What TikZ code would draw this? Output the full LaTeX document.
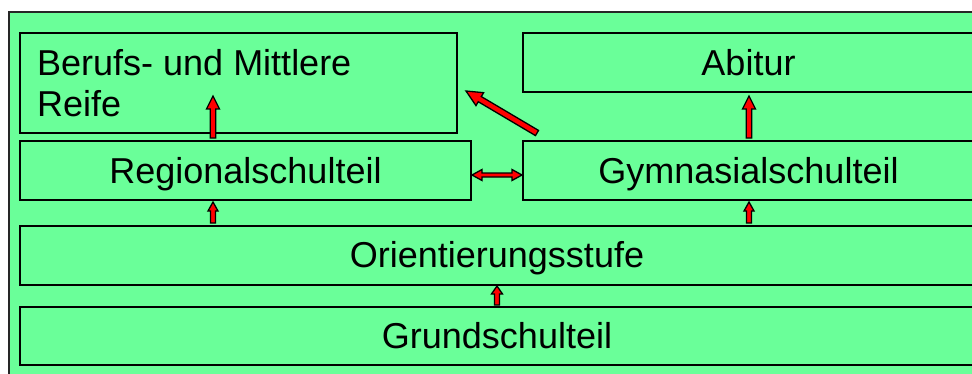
\documentclass[tikz,border=0pt]{standalone}
\usepackage{fontspec}
\setmainfont{Liberation Sans}
\usetikzlibrary{calc}
\definecolor{bggreen}{RGB}{106,255,153}
\tikzset{
  x=1pt, y=1pt,
  box/.style={draw=black, line width=2pt, fill=bggreen, rectangle, anchor=north west,
    inner sep=0pt, outer sep=0pt, font=\fontsize{36}{40}\selectfont,
    text height=25pt, text depth=0pt},
  arr/.style={fill=red, draw=black, line width=1.3pt, line join=miter},
  frame/.style={draw=black!85, line width=2pt, fill=bggreen},
}
% #1 tail, #2 tip, #3 shaft half width, #4 head half width, #5 head length
\newcommand{\blockarrow}[5]{%
  \coordinate (tmpH) at ($(#2)!#5!(#1)$);
  \path[arr] ($(#1)!#3!90:(#2)$) -- ($(tmpH)!#3!90:(#2)$) -- ($(tmpH)!#4!90:(#2)$) -- (#2)
    -- ($(tmpH)!#4!-90:(#2)$) -- ($(tmpH)!#3!-90:(#2)$) -- ($(#1)!#3!-90:(#2)$) -- cycle;
}
% double-headed: #1 and #2 ends
\newcommand{\blockarrowdouble}[5]{%
  \coordinate (tmpHa) at ($(#2)!#5!(#1)$);
  \coordinate (tmpHb) at ($(#1)!#5!(#2)$);
  \path[arr] (#1) -- ($(tmpHb)!#4!-90:(#2)$) -- ($(tmpHb)!#3!-90:(#2)$) -- ($(tmpHa)!#3!90:(#1)$)
    -- ($(tmpHa)!#4!90:(#1)$) -- (#2) -- ($(tmpHa)!#4!-90:(#1)$) -- ($(tmpHa)!#3!-90:(#1)$)
    -- ($(tmpHb)!#3!90:(#2)$) -- ($(tmpHb)!#4!90:(#2)$) -- cycle;
}
\begin{document}
\begin{tikzpicture}
\useasboundingbox (0,0) rectangle (972,373);
\clip (0,0) rectangle (972,373);
\fill[white] (0,0) rectangle (972,373);
\path[frame] (9,361) rectangle (995,-20);

\node[box, minimum width=436.5pt, minimum height=100pt] (beruf) at (20,340) {};
\node[anchor=base west, inner sep=0pt, font=\fontsize{36}{40}\selectfont] (berufText) at (37,297)
  {\begin{tabular}[t]{@{}l@{}}Berufs- und Mittlere\\Reife\end{tabular}};
\node[box, minimum width=451pt, minimum height=59pt] (abitur) at (523,340) {Abitur};
\node[box, minimum width=451pt, minimum height=59pt] (reg) at (20,232) {Regionalschulteil};
\node[box, minimum width=451pt, minimum height=59pt] (gym) at (523,232) {Gymnasialschulteil};
\node[box, minimum width=954pt, minimum height=58.5pt] (orient) at (20,147) {Orientierungsstufe};
\node[box, minimum width=954pt, minimum height=58.5pt] (grund) at (20,66.5) {Grundschulteil};

\coordinate (a1s) at ($(reg.north west)+(193,3)$);
\coordinate (a1e) at ($(reg.north west)+(193,45)$);
\coordinate (a2s) at ($(orient.north west)+(193,3)$);
\coordinate (a2e) at ($(orient.north west)+(193,24)$);
\coordinate (a3s) at ($(orient.north west)+(729,3)$);
\coordinate (a3e) at ($(orient.north west)+(729,24)$);
\coordinate (a4s) at ($(gym.north west)+(226,3)$);
\coordinate (a4e) at ($(gym.north west)+(226,45)$);
\coordinate (a5s) at ($(grund.north west)+(477,1.5)$);
\coordinate (a5e) at ($(grund.north west)+(477,20.5)$);
\coordinate (a6s) at ($(reg.north east)+(1,-34)$);
\coordinate (a6e) at ($(gym.north west)+(-1,-34)$);
\coordinate (a7s) at ($(gym.north west)+(14,8)$);
\coordinate (a7e) at ($(beruf.south east)+(9.5,42)$);

\blockarrow{a1s}{a1e}{2.7pt}{6.5pt}{13pt}
\blockarrow{a2s}{a2e}{2.5pt}{5pt}{9pt}
\blockarrow{a3s}{a3e}{2.5pt}{5pt}{9pt}
\blockarrow{a4s}{a4e}{2.7pt}{6.5pt}{13pt}
\blockarrow{a5s}{a5e}{2.5pt}{5.5pt}{8pt}
\blockarrowdouble{a6s}{a6e}{2pt}{5.5pt}{10pt}
\blockarrow{a7s}{a7e}{3pt}{7.5pt}{16pt}
\end{tikzpicture}
\end{document}
